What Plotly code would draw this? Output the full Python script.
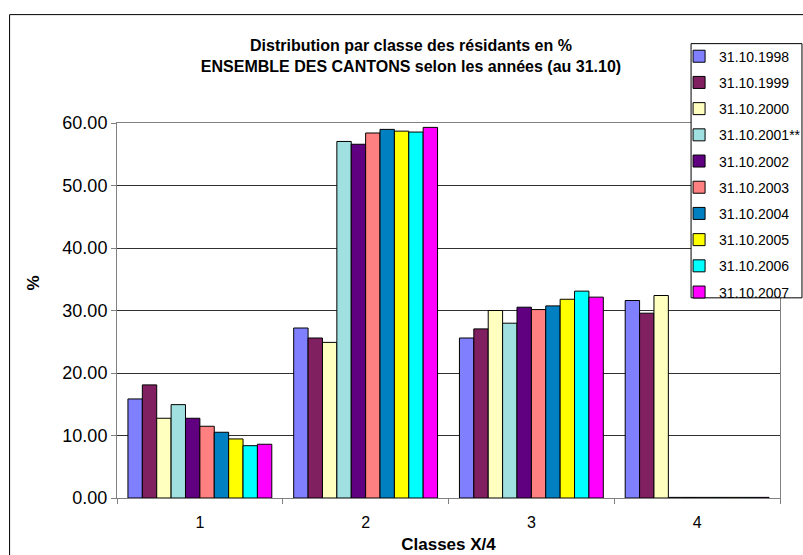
import plotly.graph_objects as go

categories = ["1", "2", "3", "4"]
series_names = ["31.10.1998", "31.10.1999", "31.10.2000", "31.10.2001**", "31.10.2002",
                "31.10.2003", "31.10.2004", "31.10.2005", "31.10.2006", "31.10.2007"]
v1998 = [15.85, 27.2, 25.6, 31.6]
v1999 = [18.1, 25.6, 27.06, 29.57]
v2000 = [12.76, 24.9, 30.0, 32.4]
v2001 = [14.94, 57.05, 27.97, 0.1]
v2002 = [12.76, 56.6, 30.53, 0.1]
v2003 = [11.48, 58.4, 30.15, 0.1]
v2004 = [10.52, 58.98, 30.74, 0.1]
v2005 = [9.45, 58.7, 31.8, 0.1]
v2006 = [8.37, 58.55, 33.1, 0.1]
v2007 = [8.6, 59.3, 32.14, 0.1]
series_values = [v1998, v1999, v2000, v2001, v2002, v2003, v2004, v2005, v2006, v2007]
colors = ["#8080FF", "#802060", "#FFFFC0", "#A0E0E0", "#600080",
          "#FF8080", "#0080C0", "#FFFF00", "#00FFFF", "#FF00FF"]

FONT = "Liberation Sans, Arial, sans-serif"
W, H = 803, 555
L, R, T, B = 116.5, 780, 123.3, 498
pw, ph = R - L, B - T

def px_x(x):
    return (x - L) / pw

def px_y(y):
    return (B - y) / ph

fig = go.Figure()
for i, (name, vals, c) in enumerate(zip(series_names, series_values, colors)):
    fig.add_trace(go.Bar(
        x=categories, y=vals, name=name,
        marker=dict(color=c, line=dict(color="#000000", width=1)),
        legendgroup=str(i),
    ))

fig.update_layout(
    width=W, height=H,
    margin=dict(l=L, r=W - R, t=T, b=H - B, pad=0, autoexpand=False),
    paper_bgcolor="white", plot_bgcolor="white",
    barmode="group", bargap=0.132, bargroupgap=0,
    font=dict(family=FONT, color="#000000"),
    showlegend=True,
    legend=dict(
        x=px_x(679), y=px_y(41), xanchor="left", yanchor="top",
        bgcolor="rgba(0,0,0,0)", borderwidth=0,
        font=dict(family=FONT, size=14, color="#000000"),
        tracegroupgap=5, itemwidth=30,
    ),
    title=dict(
        text="<b>Distribution par classe des résidants en %<br>ENSEMBLE DES CANTONS selon les années (au 31.10)</b>",
        x=411 / W, xanchor="center", y=1 - 51 / H, yanchor="top",
        font=dict(family=FONT, size=16, color="#000000"),
    ),
    xaxis=dict(
        showgrid=False, showline=True, linecolor="#808080", linewidth=1, mirror=True,
        ticks="outside", tickson="boundaries", ticklen=5, tickcolor="#808080",
        ticklabelstandoff=10,
        tickfont=dict(family=FONT, size=16, color="#000000"),
        title=dict(text="<b>Classes X/4</b>", font=dict(family=FONT, size=17, color="#000000"), standoff=7),
        automargin=False,
    ),
    yaxis=dict(
        range=[0, 60], tickmode="array", tickvals=[0, 10, 20, 30, 40, 50, 60],
        tickformat=".2f",
        showgrid=True, gridcolor="#303030", gridwidth=1,
        showline=True, linecolor="#808080", linewidth=1, mirror=True,
        ticks="outside", ticklen=5, tickcolor="#808080",
        tickfont=dict(family=FONT, size=18, color="#000000"),
        zeroline=False, automargin=False,
    ),
    annotations=[
        dict(text="<b>%</b>", xref="paper", yref="paper", x=px_x(33), y=px_y(283),
             xanchor="center", yanchor="middle", textangle=-90, showarrow=False,
             font=dict(family=FONT, size=17, color="#000000")),
    ],
    shapes=[
        dict(type="rect", xref="paper", yref="paper",
             x0=px_x(9), x1=px_x(830), y0=px_y(15), y1=px_y(600),
             line=dict(color="#000000", width=1), fillcolor="rgba(0,0,0,0)", layer="below"),
        dict(type="rect", xref="paper", yref="paper",
             x0=px_x(691), x1=px_x(802), y0=px_y(44), y1=px_y(298),
             line=dict(color="#000000", width=1), fillcolor="white", layer="above"),
    ],
)

fig.write_html("out.html")
